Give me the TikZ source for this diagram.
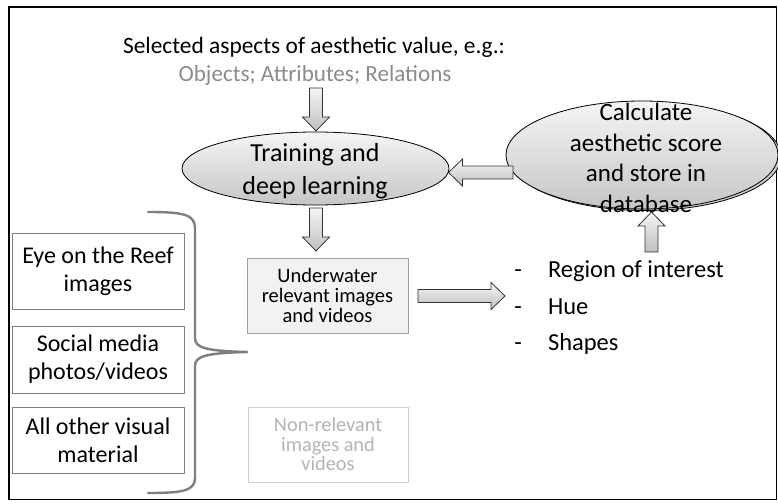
\documentclass[tikz,border=0pt]{standalone}
\usepackage{fontspec}
\setmainfont{Carlito}
\usetikzlibrary{calc,shapes.geometric}
\definecolor{boxgray}{HTML}{7F7F7F}
\definecolor{midgray}{HTML}{A0A0A0}
\definecolor{lightline}{HTML}{CFCFCF}
\definecolor{lighttext}{HTML}{B4B4B4}
\definecolor{attrgray}{HTML}{8C8C8C}
\definecolor{bracegray}{HTML}{7F7F7F}
\definecolor{boxfill}{HTML}{F2F2F2}
\tikzset{
  barrow/.style={draw=black!80, line width=0.8pt, line join=miter,
    top color=gray!8, bottom color=gray!50,
    to path={let \p1=(\tikztostart), \p2=(\tikztotarget),
      \n1={atan2(\y2-\y1,\x2-\x1)} in
      -- ($(\p1)+({\n1+90}:6.5pt)$)
      -- ($(\p2)+({\n1+180}:14pt)+({\n1+90}:6.5pt)$)
      -- ($(\p2)+({\n1+180}:14pt)+({\n1+90}:13.5pt)$)
      -- (\p2)
      -- ($(\p2)+({\n1+180}:14pt)+({\n1-90}:13.5pt)$)
      -- ($(\p2)+({\n1+180}:14pt)+({\n1-90}:6.5pt)$)
      -- ($(\p1)+({\n1-90}:6.5pt)$) -- cycle}},
  ellnode/.style={ellipse, draw=black, line width=0.8pt, inner sep=0pt,
    top color=gray!8, bottom color=gray!45},
  srcbox/.style={draw=boxgray, line width=0.9pt, minimum width=172pt,
    align=center, font=\fontsize{24}{28}\selectfont},
  listtxt/.style={anchor=base west, font=\fontsize{24.5}{29}\selectfont},
  listdash/.style={anchor=base, font=\fontsize{24.5}{29}\selectfont},
}
\begin{document}
\begin{tikzpicture}[x=1pt,y=-1pt, every node/.style={inner sep=0pt, outer sep=0pt}]
\useasboundingbox (0,0) rectangle (778,503);
\clip (0,0) rectangle (778,503);
\fill[white] (0,0) rectangle (778,503);

% frame
\draw[line width=1.6pt] (9,7) rectangle (776.5,499.5);

% title
\node[font=\fontsize{23.4}{28}\selectfont] (title) at (314,47) {Selected aspects of aesthetic value, e.g.:};
\node[font=\fontsize{23.1}{28}\selectfont, text=attrgray] (attrs) at (315,75) {Objects; Attributes; Relations};

% ellipses
\node[ellnode, minimum width=267pt, minimum height=73pt] (train) at (315.5,168.5) {};
\node[ellipse, draw=black, line width=0.8pt, fill=gray!40, minimum width=272pt, minimum height=108pt] (calcshadow) at (645,156.5) {};
\node[ellnode, minimum width=272pt, minimum height=108pt] (calc) at (642,155) {};

% source boxes
\node[srcbox, minimum height=76pt] (reef) at (98,271) {Eye on the Reef\\images};
\node[srcbox, minimum height=67pt] (social) at (98,359.5) {Social media\\photos/videos};
\node[srcbox, minimum height=66pt] (other) at (98,440) {All other visual\\material};

% output boxes
\node[draw=midgray, line width=0.9pt, fill=boxfill, minimum width=161pt, minimum height=75pt,
      align=center, font=\fontsize{20.5}{20}\selectfont] (under) at (327.5,295.5) {Underwater\\relevant images\\and videos};
\node[draw=lightline, line width=0.9pt, minimum width=160pt, minimum height=75pt,
      align=center, text=lighttext, font=\fontsize{20.3}{19.5}\selectfont] (nonrel) at (328,444.5) {Non-relevant\\images and\\videos};

% brace
\coordinate (bracetip) at (248,352);
\draw[bracegray, line width=2.4pt, line cap=round]
  (148,212) .. controls (182,212) and (195,214) .. (195,228)
  -- (195,338) .. controls (195,348) and (206,351) .. (bracetip)
  .. controls (206,353) and (195,356) .. (195,366)
  -- (195,478) .. controls (195,491) and (182,493) .. (148,493);

% feature list
\node[listdash] (d1) at (518,277.5) {-};
\node[listtxt] (f1) at (548,277.5) {Region of interest};
\node[listdash] (d2) at (518,314) {-};
\node[listtxt] (f2) at (548,314) {Hue};
\node[listdash] (d3) at (518,350) {-};
\node[listtxt] (f3) at (548,350) {Shapes};

% arrow end points
\coordinate (a1s) at (316,88);
\coordinate (a1e) at (316,131);
\coordinate (a2s) at (316,208);
\coordinate (a2e) at (316,251);
\coordinate (a3s) at (513,172.5);
\coordinate (a3e) at (448.5,172.5);
\coordinate (a4s) at (418,296);
\coordinate (a4e) at (505,296);
\coordinate (a5s) at (651.5,252);
\coordinate (a5e) at (651.5,212);

\draw[barrow] (a1s) to (a1e);
\draw[barrow] (a2s) to (a2e);
\draw[barrow] (a3s) to (a3e);
\draw[barrow] (a4s) to (a4e);
\draw[barrow] (a5s) to (a5e);

% ellipse texts
\node[align=center, font=\fontsize{26}{33}\selectfont] (traintxt) at (315,171.5) {Training and\\deep learning};
\node[align=center, font=\fontsize{25}{30.5}\selectfont] (calctxt) at (646,158) {Calculate\\aesthetic score\\and store in\\database};
\end{tikzpicture}
\end{document}
